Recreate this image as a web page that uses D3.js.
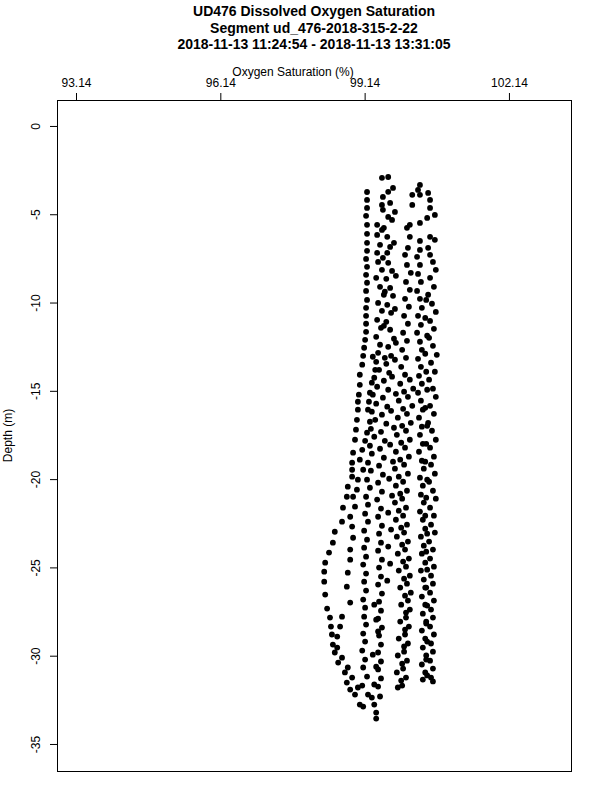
<!DOCTYPE html>
<html><head><meta charset="utf-8">
<script src="https://cdn.jsdelivr.net/npm/d3@7"></script>
<style>
html,body{margin:0;padding:0;background:#fff;}
svg{display:block;font-family:"Liberation Sans",Arial,Helvetica,sans-serif;}
</style></head>
<body>
<svg id="chart" width="600" height="800"></svg>
<script>
const titleLines = ["UD476 Dissolved Oxygen Saturation","Segment ud_476-2018-315-2-22","2018-11-13 11:24:54 - 2018-11-13 13:31:05"];
const xLabel = "Oxygen Saturation (%)";
const yLabel = "Depth (m)";
const xTicks = [93.14, 96.14, 99.14, 102.14];
const xTickLabels = ["93.14","96.14","99.14","102.14"];
const yTicks = [0,-5,-10,-15,-20,-25,-30,-35];
const yTickLabels = ["0","-5","-10","-15","-20","-25","-30","-35"];

// [depth (m), oxygen saturation (%)]
const castA = [[-3.74,99.19],[-4.19,99.19],[-4.64,99.19],[-5.09,99.17],[-5.60,99.19],[-6.11,99.19],[-6.62,99.19],[-7.07,99.19],[-7.53,99.17],[-7.98,99.19],[-8.43,99.17],[-8.88,99.19],[-9.34,99.17],[-9.85,99.19],[-10.30,99.17],[-10.75,99.17],[-11.20,99.17],[-11.66,99.17],[-12.11,99.15],[-12.56,99.13],[-13.02,99.11],[-13.52,99.09],[-14.09,99.04],[-14.66,99.04],[-15.22,99.02],[-15.62,99.00],[-16.07,99.00],[-16.64,98.98],[-17.20,98.96],[-17.77,98.94],[-18.50,98.90],[-19.07,98.88],[-19.47,98.88],[-19.86,98.88],[-20.43,98.79],[-21.00,98.77],[-21.62,98.69],[-22.41,98.67],[-22.98,98.52],[-23.60,98.48],[-24.16,98.40],[-24.73,98.32],[-25.24,98.30],[-25.81,98.30],[-26.54,98.32],[-27.33,98.36],[-27.84,98.42],[-28.35,98.44],[-28.80,98.46],[-29.37,98.48],[-29.82,98.52],[-30.39,98.59],[-30.95,98.73],[-31.52,98.77],[-31.92,98.84],[-32.20,98.94],[-32.77,99.04],[-32.88,99.11]];
const castB = [[-13.07,99.31],[-13.81,99.36],[-14.54,99.29],[-15.11,99.25],[-15.62,99.23],[-16.07,99.21],[-16.75,99.25],[-17.37,99.19],[-17.83,99.15],[-18.34,99.09],[-18.90,99.04],[-19.47,99.11],[-20.03,99.00],[-20.60,98.98],[-21.00,98.90],[-21.56,98.94],[-22.13,98.84],[-22.69,98.88],[-23.32,98.90],[-23.99,98.84],[-24.56,98.84],[-25.30,98.79],[-26.09,98.77],[-26.99,98.84],[-27.79,98.67],[-28.35,98.63],[-28.92,98.57],[-29.54,98.57],[-30.11,98.67],[-30.67,98.79],[-31.24,98.88],[-31.80,99.00],[-32.20,99.21],[-32.37,99.29],[-32.77,99.34],[-33.22,99.38],[-33.56,99.38]];
const castC = [[-2.94,99.50],[-4.02,99.52],[-4.47,99.50],[-4.75,99.52],[-5.60,99.40],[-5.89,99.50],[-6.17,99.40],[-6.73,99.46],[-7.19,99.40],[-7.70,99.42],[-8.15,99.50],[-8.60,99.38],[-9.11,99.46],[-9.56,99.54],[-10.02,99.42],[-10.47,99.50],[-10.98,99.40],[-11.43,99.48],[-11.94,99.38],[-12.39,99.46],[-12.85,99.42],[-13.36,99.38],[-13.81,99.44],[-14.26,99.34],[-14.77,99.40],[-15.22,99.31],[-15.73,99.38],[-16.18,99.29],[-16.64,99.36],[-17.15,99.27],[-17.60,99.34],[-18.11,99.25],[-18.56,99.29],[-19.07,99.21],[-19.52,99.27],[-20.03,99.19],[-20.49,99.25],[-21.00,99.17],[-21.45,99.21],[-21.96,99.15],[-22.41,99.21],[-22.92,99.13],[-23.43,99.19],[-23.88,99.13],[-24.39,99.17],[-24.84,99.11],[-25.35,99.17],[-25.81,99.13],[-26.31,99.17],[-26.82,99.11],[-27.28,99.15],[-27.79,99.13],[-28.24,99.17],[-28.75,99.11],[-29.20,99.15],[-29.71,99.09],[-30.22,99.15],[-30.67,99.11],[-31.18,99.19],[-31.69,99.09]];
const castC2 = [[-4.87,99.77],[-5.77,99.54],[-6.62,99.75],[-7.47,99.52],[-8.49,99.79],[-9.39,99.56],[-10.36,99.77],[-11.32,99.54],[-12.28,99.79],[-13.13,99.56]];
const castD = [[-2.89,99.63],[-3.51,99.73],[-3.73,99.63],[-4.36,99.67],[-5.15,99.63],[-5.32,99.71],[-6.28,99.61],[-6.85,99.67],[-7.19,99.61],[-7.75,99.63],[-8.21,99.71],[-8.66,99.59],[-9.17,99.67],[-9.62,99.73],[-10.13,99.61],[-10.58,99.69],[-11.09,99.59],[-11.54,99.67],[-12.05,99.75],[-12.51,99.63],[-13.02,99.69],[-13.47,99.59],[-13.98,99.65],[-14.43,99.54],[-14.94,99.63],[-15.39,99.52],[-15.90,99.61],[-16.35,99.50],[-16.86,99.59],[-17.32,99.48],[-17.83,99.56],[-18.28,99.46],[-18.79,99.54],[-19.24,99.44],[-19.75,99.52],[-20.20,99.42],[-20.71,99.50],[-21.16,99.40],[-21.67,99.48],[-22.13,99.42],[-22.64,99.50],[-23.09,99.44],[-23.60,99.48],[-24.05,99.42],[-24.56,99.50],[-25.01,99.44],[-25.52,99.48],[-25.97,99.42],[-26.48,99.50],[-26.94,99.44],[-27.45,99.48],[-27.90,99.42],[-28.41,99.50],[-28.86,99.44],[-29.37,99.48],[-29.82,99.42],[-30.33,99.48],[-30.78,99.42],[-31.29,99.48],[-31.75,99.42],[-32.31,99.46]];
const castD2 = [[-13.24,99.77],[-14.20,99.71],[-15.17,99.79],[-16.13,99.69],[-17.09,99.75],[-18.05,99.67],[-19.01,99.73],[-19.98,99.65],[-20.94,99.71],[-21.90,99.63],[-22.86,99.69],[-23.82,99.63],[-24.79,99.67],[-25.75,99.61],[-27.11,99.34],[-27.96,99.38],[-28.63,99.42],[-29.94,99.31],[-30.62,99.38],[-31.63,99.34]];
const castE = [[-3.90,100.13],[-4.47,100.13],[-5.60,100.08],[-5.77,100.02],[-6.28,100.08],[-6.90,100.04],[-7.30,99.98],[-7.87,100.02],[-8.32,100.10],[-8.83,100.00],[-9.28,100.08],[-9.79,99.98],[-10.24,100.06],[-10.75,99.96],[-11.20,100.04],[-11.71,99.94],[-12.17,100.02],[-12.68,99.92],[-13.13,100.00],[-13.64,99.90],[-14.09,99.98],[-14.60,99.88],[-15.05,99.96],[-15.56,99.85],[-16.02,99.94],[-16.52,99.83],[-16.98,99.92],[-17.49,99.81],[-17.94,99.90],[-18.45,99.79],[-18.90,99.88],[-19.41,99.77],[-19.86,99.85],[-20.37,99.79],[-20.83,99.88],[-21.33,99.77],[-21.79,99.85],[-22.30,99.79],[-22.75,99.90],[-23.26,99.81],[-23.71,99.92],[-24.22,99.83],[-24.67,99.94],[-25.18,99.85],[-25.64,99.96],[-26.14,99.88],[-26.60,99.98],[-27.11,99.90],[-27.56,100.00],[-28.07,99.88],[-28.52,99.98],[-29.03,99.85],[-29.48,99.96],[-29.99,99.83],[-30.45,99.92],[-30.95,99.81],[-31.41,99.90],[-31.80,99.83]];
const castE2 = [[-14.37,100.08],[-14.88,100.15],[-15.34,100.04],[-15.85,100.13],[-16.30,100.02],[-16.81,100.10],[-17.26,100.00],[-17.77,100.08],[-18.22,99.98],[-18.73,100.06],[-19.18,99.96],[-19.69,100.04],[-20.15,99.94],[-20.66,100.02],[-21.11,99.92],[-21.62,100.00],[-22.07,99.94],[-22.58,100.02],[-23.03,99.96],[-23.54,100.04],[-23.99,99.98],[-24.50,100.06],[-24.96,100.00],[-25.47,100.08],[-25.92,100.02],[-26.43,100.10],[-26.88,100.04],[-27.39,100.08],[-27.84,100.00],[-28.35,100.06],[-28.80,99.98],[-29.31,100.04],[-29.77,99.96],[-30.28,100.02],[-30.73,99.94],[-31.24,100.00],[-31.69,99.92]];
const castF = [[-3.34,100.29],[-3.62,100.25],[-3.90,100.29],[-5.21,100.44],[-5.49,100.29],[-6.51,100.29],[-7.02,100.29],[-7.41,100.23],[-7.87,100.29],[-8.38,100.25],[-8.83,100.31],[-9.34,100.23],[-9.79,100.29],[-10.30,100.33],[-10.75,100.25],[-11.26,100.31],[-11.71,100.23],[-12.22,100.29],[-12.68,100.33],[-13.19,100.25],[-13.64,100.31],[-14.15,100.27],[-14.60,100.33],[-15.11,100.25],[-15.56,100.31],[-16.07,100.35],[-16.52,100.27],[-17.03,100.33],[-17.49,100.29],[-18.00,100.35],[-18.45,100.27],[-18.96,100.33],[-19.41,100.37],[-19.92,100.29],[-20.37,100.35],[-20.88,100.31],[-21.33,100.37],[-21.84,100.29],[-22.30,100.35],[-22.81,100.40],[-23.26,100.31],[-23.77,100.37],[-24.22,100.33],[-24.73,100.40],[-25.18,100.31],[-25.69,100.37],[-26.14,100.42],[-26.65,100.33],[-27.11,100.40],[-27.62,100.35],[-28.07,100.42],[-28.58,100.33],[-29.03,100.40],[-29.54,100.35],[-29.99,100.42],[-30.50,100.33],[-30.95,100.40],[-31.35,100.35]];
const castG = [[-3.79,100.46],[-4.19,100.50],[-4.64,100.50],[-5.04,100.60],[-6.28,100.50],[-6.45,100.60],[-6.90,100.46],[-7.30,100.50],[-7.70,100.56],[-8.15,100.62],[-8.60,100.50],[-9.11,100.58],[-9.56,100.46],[-10.07,100.54],[-10.53,100.62],[-11.04,100.50],[-11.49,100.58],[-12.00,100.48],[-12.45,100.56],[-12.96,100.64],[-13.41,100.52],[-13.92,100.60],[-14.37,100.48],[-14.88,100.56],[-15.34,100.62],[-15.85,100.50],[-16.30,100.58],[-16.81,100.46],[-17.26,100.54],[-17.77,100.62],[-18.22,100.50],[-18.73,100.58],[-19.18,100.52],[-19.69,100.60],[-20.15,100.48],[-20.66,100.56],[-21.11,100.62],[-21.62,100.50],[-22.07,100.58],[-22.58,100.52],[-23.03,100.60],[-23.54,100.48],[-23.99,100.56],[-24.50,100.50],[-24.96,100.58],[-25.47,100.52],[-25.92,100.56],[-26.43,100.50],[-26.88,100.58],[-27.39,100.52],[-27.84,100.56],[-28.35,100.50],[-28.80,100.58],[-29.31,100.52],[-29.77,100.56],[-30.28,100.50],[-30.73,100.56],[-31.24,100.52],[-31.46,100.56]];
const castG2 = [[-9.85,100.42],[-10.87,100.40],[-11.88,100.44],[-12.90,100.40],[-13.92,100.42],[-14.94,100.44],[-15.96,100.40],[-16.98,100.44],[-18.00,100.42],[-19.01,100.40],[-20.03,100.44],[-21.05,100.42],[-22.07,100.40],[-23.09,100.44],[-24.11,100.42],[-25.13,100.44],[-26.14,100.40],[-27.16,100.44],[-28.18,100.42],[-29.20,100.44],[-30.22,100.42],[-31.12,100.44]];

const points = [].concat(castA, castB, castC, castC2, castD, castD2, castE, castE2, castF, castG, castG2)
  .map(p => ({depth: p[0], o2: p[1]}));

const svg = d3.select("#chart");
const box = {left: 57, right: 571, top: 100, bottom: 771};

const x = d3.scaleLinear().domain([92.745, 103.43]).range([box.left, box.right]);
const y = d3.scaleLinear().domain([-36.53, 1.47]).range([box.bottom, box.top]);

// title
svg.append("g").selectAll("text").data(titleLines).join("text")
  .attr("x", (box.left + box.right) / 2)
  .attr("y", (d, i) => 16 + i * 16.5)
  .attr("text-anchor", "middle")
  .attr("font-size", 14).attr("font-weight", "bold")
  .text(d => d);

// top axis
const xAxis = d3.axisTop(x).tickValues(xTicks)
  .tickFormat((d, i) => xTickLabels[i]).tickSize(7).tickPadding(6);
const gx = svg.append("g").attr("transform", `translate(0,${box.top})`).call(xAxis);
gx.select(".domain").remove();
gx.selectAll("text").attr("font-size", 12).attr("font-family", "Liberation Sans, Arial, sans-serif").attr("fill", "#000");
gx.selectAll("line").attr("stroke", "#000");

// left axis
const yAxis = d3.axisLeft(y).tickValues(yTicks)
  .tickFormat((d, i) => yTickLabels[i]).tickSize(7).tickPadding(0);
const gy = svg.append("g").attr("transform", `translate(${box.left},0)`).call(yAxis);
gy.select(".domain").remove();
gy.selectAll("line").attr("stroke", "#000");
gy.selectAll("text")
  .attr("font-size", 12).attr("font-family", "Liberation Sans, Arial, sans-serif").attr("fill", "#000")
  .attr("x", null).attr("dy", null)
  .attr("text-anchor", "middle")
  .attr("transform", "translate(-17,0) rotate(-90)");

// frame
svg.append("rect")
  .attr("x", box.left + 0.5).attr("y", box.top + 0.5)
  .attr("width", box.right - box.left).attr("height", box.bottom - box.top)
  .attr("fill", "none").attr("stroke", "#000").attr("stroke-width", 1);

// axis labels
svg.append("text").attr("x", 293).attr("y", 76)
  .attr("text-anchor", "middle").attr("font-size", 12).text(xLabel);
svg.append("text").attr("transform", `translate(12,${(box.top + box.bottom) / 2}) rotate(-90)`)
  .attr("text-anchor", "middle").attr("font-size", 12).text(yLabel);

// points
svg.append("g").selectAll("circle").data(points).join("circle")
  .attr("cx", d => x(d.o2)).attr("cy", d => y(d.depth))
  .attr("r", 2.9).attr("fill", "#000");
</script>
</body></html>
